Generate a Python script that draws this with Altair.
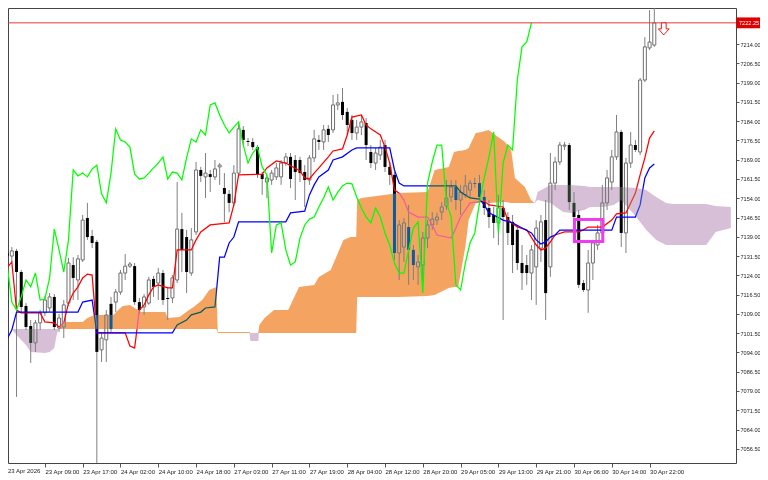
import altair as alt
import pandas as pd

# ---------------- data (H1 bars, index 0 = 23 Apr 01:00) ----------------
opens = [7132.7,7131.5,7133.5,7125.3,7112.1,7104.3,7097.7,7105.5,7109.4,7111.3,
         7115.6,7103.5,7103.9,7113.2,7128.0,7122.2,7130.0,7146.3,7139.3,7137.0,
         7095.0,7098.9,7112.9,7113.6,7117.5,7124.9,7127.6,7127.6,7113.6,7111.7,
         7113.2,7122.6,7121.0,7124.9,7115.2,7115.2,7122.2,7142.0,7138.9,7124.9,
         7140.9,7165.0,7162.3,7163.4,7162.3,7166.2,7158.0,7155.7,7152.2,7163.8,
         7180.6,7176.3,7175.9,7173.9,7163.4,7160.3,7161.1,7162.3,7162.3,7167.7,
         7170.1,7168.9,7168.9,7164.2,7161.1,7169.7,7176.7,7175.9,7181.0,7180.6,
         7190.3,7191.5,7187.6,7184.5,7179.4,7181.7,7183.3,7172.0,7167.7,7170.8,
         7174.7,7166.2,7163.1,7132.7,7135.0,7142.8,7133.9,7127.3,7128.0,7138.5,
         7143.6,7145.5,7148.6,7151.0,7154.5,7158.4,7153.3,7155.3,7157.2,7159.9,
         7159.9,7154.5,7150.2,7147.5,7144.4,7150.2,7146.7,7144.8,7141.7,7128.8,
         7128.0,7124.9,7127.3,7134.6,7145.5,7127.3,7159.9,7168.1,7174.3,7174.7,
         7152.2,7147.5,7121.0,7118.3,7128.8,7135.8,7140.5,7152.2,7160.3,7170.1,
         7179.8,7140.5,7167.7,7174.7,7172.0,7200.0,7212.5,7213.6]
highs = [7134.3,7135.0,7134.3,7126.1,7113.2,7106.6,7106.6,7110.5,7116.0,7117.1,
         7116.7,7109.0,7114.4,7130.8,7131.1,7131.9,7147.5,7152.2,7141.7,7137.8,
         7101.6,7110.5,7115.6,7118.7,7126.1,7132.3,7129.2,7128.8,7115.2,7116.7,
         7123.4,7123.8,7126.9,7126.1,7119.5,7124.1,7160.3,7148.3,7141.7,7142.4,
         7168.1,7166.2,7171.6,7165.0,7168.9,7167.7,7163.8,7157.2,7166.9,7183.3,
         7182.1,7177.4,7177.4,7174.7,7164.2,7163.1,7165.0,7167.7,7168.9,7171.6,
         7171.6,7170.8,7170.1,7166.9,7170.8,7180.6,7178.6,7182.5,7182.5,7194.2,
         7194.6,7196.9,7189.1,7186.4,7184.5,7186.4,7185.2,7174.7,7173.6,7176.7,
         7176.7,7168.1,7164.2,7145.5,7146.3,7151.4,7135.8,7131.9,7140.9,7145.5,
         7148.6,7148.3,7152.5,7161.1,7161.1,7161.1,7159.2,7163.1,7161.1,7162.0,
         7163.1,7157.2,7153.3,7150.6,7155.3,7153.3,7148.6,7147.5,7143.6,7135.8,
         7131.9,7135.8,7145.5,7147.5,7153.3,7171.6,7170.1,7175.9,7175.9,7175.5,
         7156.4,7149.4,7122.2,7133.9,7137.8,7143.6,7159.2,7165.0,7172.8,7186.4,
         7180.6,7169.7,7179.8,7176.7,7200.8,7216.7,7227.2,7228.0]
lows = [7129.2,7129.2,7076.7,7109.7,7102.7,7089.9,7094.2,7102.7,7108.2,7109.7,
        7102.7,7102.0,7099.6,7112.1,7114.4,7114.4,7129.2,7137.8,7134.6,7051.0,
        7090.3,7090.3,7102.0,7109.7,7116.4,7122.2,7126.9,7112.5,7109.0,7108.6,
        7112.5,7115.6,7114.4,7112.5,7106.6,7113.2,7121.0,7125.3,7117.1,7123.8,
        7139.7,7160.3,7154.1,7156.4,7161.1,7159.2,7144.8,7148.6,7151.0,7162.7,
        7174.7,7174.3,7172.8,7161.9,7155.3,7154.1,7159.2,7161.1,7159.2,7166.6,
        7158.0,7153.3,7160.3,7150.6,7159.2,7168.1,7172.8,7172.8,7175.9,7179.4,
        7188.3,7184.5,7178.6,7176.7,7176.7,7178.6,7168.9,7165.8,7165.0,7168.9,
        7164.2,7159.2,7130.0,7122.2,7129.2,7120.3,7122.2,7120.3,7121.4,7134.6,
        7141.7,7143.6,7145.5,7149.4,7152.5,7149.4,7147.5,7154.1,7154.1,7158.0,
        7151.4,7147.5,7142.4,7138.5,7135.8,7106.6,7135.8,7124.9,7126.1,7118.3,
        7120.3,7114.4,7112.5,7129.2,7106.6,7123.4,7157.2,7166.9,7172.8,7149.4,
        7144.8,7119.1,7117.5,7109.4,7122.2,7133.9,7137.8,7149.4,7157.2,7168.9,
        7135.0,7132.7,7165.8,7172.0,7170.8,7199.2,7211.7,7212.9]
closes = [7131.5,7133.5,7125.3,7111.7,7103.9,7097.7,7105.5,7109.4,7114.4,7115.6,
          7103.9,7107.4,7112.5,7128.8,7123.0,7130.4,7145.5,7138.9,7136.6,7094.2,
          7099.6,7108.6,7103.1,7117.5,7124.9,7127.6,7128.4,7113.6,7110.5,7115.6,
          7122.2,7119.5,7124.9,7114.4,7114.8,7123.0,7142.0,7133.9,7125.3,7137.8,
          7165.0,7162.7,7163.8,7162.3,7165.4,7166.9,7155.7,7152.2,7163.8,7181.0,
          7176.7,7175.9,7173.9,7163.4,7161.5,7161.9,7163.8,7165.8,7167.7,7170.1,
          7161.5,7164.2,7163.8,7161.1,7169.7,7177.1,7175.9,7180.6,7178.6,7190.3,
          7191.1,7186.4,7182.5,7179.4,7181.7,7183.7,7174.7,7167.7,7171.6,7173.9,
          7166.2,7163.1,7132.7,7143.6,7144.4,7133.9,7128.0,7129.2,7138.5,7143.6,
          7145.9,7146.7,7150.6,7154.1,7158.4,7153.3,7156.4,7158.8,7159.9,7159.6,
          7154.5,7150.2,7146.7,7144.4,7150.2,7146.7,7140.5,7135.8,7128.8,7124.9,
          7124.9,7133.9,7142.4,7144.8,7117.1,7159.9,7168.1,7174.7,7174.7,7152.5,
          7146.7,7120.3,7118.3,7128.8,7136.6,7140.5,7152.2,7161.9,7170.1,7179.8,
          7140.5,7167.7,7174.7,7172.8,7200.0,7212.9,7214.8,7222.25]

# Tenkan-sen (red) and Kijun-sen (blue), read at their turning points
tenkan_bar = [0,1,2,3,7,8,10,11,12,13,14,15,16,17,18,19,25,26,27,28,29,30,31,32,34,35,36,39,40,41,
              43,47,48,49,54,55,57,59,62,63,64,65,66,68,69,71,72,73,75,76,77,79,80,81,82,83,84,85,87,89,
              90,91,94,95,96,98,101,102,105,106,108,110,112,113,114,115,116,118,121,122,123,126,128,129,
              131,133,134,135,136,137]
tenkan_val = [7126.9,7129.2,7110.5,7109.4,7109.4,7105.9,7105.5,7103.9,7105.5,7113.2,7117.1,7119.5,7123.0,
              7124.5,7124.1,7101.6,7101.6,7096.5,7095.7,7110.5,7112.5,7116.4,7119.5,7120.3,7119.1,7119.1,
              7133.9,7133.9,7137.8,7140.9,7143.6,7144.4,7151.4,7163.1,7163.4,7165.8,7168.5,7167.7,7164.6,
              7161.9,7161.5,7163.8,7165.8,7170.1,7172.4,7173.2,7178.6,7185.6,7186.4,7182.5,7181.0,7178.6,
              7173.9,7167.7,7157.2,7156.0,7153.3,7148.6,7146.7,7146.7,7143.6,7139.7,7138.5,7142.4,7146.7,
              7152.2,7152.9,7151.4,7150.6,7145.5,7142.8,7141.7,7135.8,7133.9,7134.6,7137.0,7139.7,7140.9,
              7140.9,7141.7,7142.8,7142.8,7145.5,7147.9,7148.3,7156.0,7163.1,7169.7,7177.4,7180.2]
kijun_bar = [0,1,2,15,16,18,19,35,36,38,39,41,42,44,45,46,47,48,49,59,60,63,64,65,66,68,69,71,73,74,
             81,82,83,84,95,96,98,100,101,102,103,105,107,109,111,112,113,114,115,116,117,128,129,133,
             134,135,136,137]
kijun_val = [7099.2,7102.7,7109.7,7109.7,7113.6,7114.4,7101.6,7101.6,7104.7,7106.6,7108.6,7109.7,7111.3,
             7111.7,7131.1,7131.1,7136.6,7138.9,7144.8,7144.8,7148.3,7149.0,7155.3,7159.2,7162.3,7165.0,
             7168.9,7170.1,7172.8,7173.6,7173.6,7165.0,7159.9,7158.8,7158.8,7156.4,7154.1,7153.7,7151.4,
             7148.3,7147.5,7145.5,7144.4,7142.4,7140.5,7137.8,7136.2,7137.0,7138.9,7139.7,7141.6,7141.6,
             7146.7,7146.7,7151.4,7161.9,7165.8,7167.3]

# Senkou span A / B (cloud edges), read at their turning points
cloud_bar = [1.3,2.0,4.0,5.0,8.0,9.0,10.0,10.5,10.9,11.3,12.0,16.0,17.0,18.5,22.5,23.5,24.5,26.0,27.0,28.5,
             33.5,34.0,36.5,38.5,39.5,41.3,42.8,44.3,44.6,51.3,51.5,53.2,53.4,54.5,56.5,59.5,61.8,65.0,66.0,
             68.5,71.2,72.7,73.9,74.1,75.0,83.0,89.0,90.5,93.5,94.6,95.5,97.0,97.7,99.2,100.4,101.9,105.4,
             106.7,107.5,109.6,110.9,111.7,112.3,115.0,117.7,119.3,122.2,123.4,126.3,128.4,130.0,133.2,
             135.3,137.4,139.5,141.0,148.0,150.0,153.2]
span_a = [7102.3,7100.79,7096.90,7094.18,7093.79,7094.18,7095.73,7100.79,7103.13,7104.68,7105.85,7105.85,
          7107.41,7108.57,7108.57,7110.52,7112.08,7112.46,7111.30,7109.74,7109.74,7107.41,7107.80,7110.52,
          7111.69,7114.41,7118.30,7119.47,7101.97,7101.97,7098.46,7098.46,7104.68,7107.41,7110.52,7110.52,
          7119.47,7120.25,7123.36,7126.08,7137.76,7138.92,7138.92,7153.32,7154.10,7156.04,7156.43,7164.99,
          7166.16,7172.00,7172.39,7172.77,7173.55,7179.39,7179.78,7180.56,7175.89,7172.77,7161.88,7158.38,
          7153.32,7152.15,7153.32,7152.15,7148.65,7148.26,7149.43,7150.60,7150.60,7151.37,7153.32,7146.71,
          7141.65,7137.76,7135.81,7135.81,7135.81,7140.87,7142.43]
span_b = [7103.13,7103.13,7103.13,7103.13,7103.13,7103.13,7103.13,7103.13,7103.13,7103.13,7103.13,7103.13,
          7103.13,7103.13,7103.13,7103.13,7103.13,7103.13,7103.13,7103.13,7103.13,7103.13,7103.13,7103.13,
          7103.13,7103.13,7103.13,7103.13,7101.57,7101.57,7101.57,7101.57,7101.57,7101.57,7101.57,7101.57,
          7101.57,7101.57,7101.57,7101.57,7101.57,7101.57,7101.57,7115.58,7115.58,7115.58,7115.97,7116.36,
          7119.08,7119.47,7119.47,7135.03,7145.54,7152.15,7153.32,7152.15,7152.54,7152.15,7152.15,7152.15,
          7152.15,7152.15,7156.43,7159.16,7159.16,7159.16,7158.77,7158.38,7158.38,7158.38,7158.38,7157.99,
          7157.21,7154.49,7152.15,7151.76,7151.76,7150.99,7150.60]

time_labels = ["23 Apr 2026", "23 Apr 09:00", "23 Apr 17:00", "24 Apr 02:00", "24 Apr 10:00",
               "24 Apr 18:00", "27 Apr 03:00", "27 Apr 11:00", "27 Apr 19:00", "28 Apr 04:00",
               "28 Apr 12:00", "28 Apr 20:00", "29 Apr 05:00", "29 Apr 13:00", "29 Apr 21:00",
               "30 Apr 06:00", "30 Apr 14:00", "30 Apr 22:00"]
price_ticks = [7214.0, 7206.5, 7199.0, 7191.5, 7184.0, 7176.5, 7169.0, 7161.5, 7154.0, 7146.5,
               7139.0, 7131.5, 7124.0, 7116.5, 7109.0, 7101.5, 7094.0, 7086.5, 7079.0, 7071.5,
               7064.0, 7056.5]
bid_price = 7222.25
box_bars = [120.1, 126.1]
box_prices = [7137.2, 7145.7]
arrow_bar = 139.0
arrow_price = 7219.9
CHIKOU_SHIFT = 26

# ---------------- tables ----------------
n = len(opens)
candles = pd.DataFrame({"i": list(range(n)), "o": opens, "h": highs, "l": lows, "c": closes})
candles["top"] = candles[["o", "c"]].max(axis=1)
candles["bot"] = candles[["o", "c"]].min(axis=1)
bull = candles[candles["c"] >= candles["o"]]
bear = candles[candles["c"] < candles["o"]]

tenkan = pd.DataFrame({"i": tenkan_bar, "p": tenkan_val})
kijun = pd.DataFrame({"i": kijun_bar, "p": kijun_val})
cloud = pd.DataFrame({"i": cloud_bar, "a": span_a, "b": span_b})
cloud["top"] = cloud[["a", "b"]].max(axis=1)
chikou = pd.DataFrame({"i": list(range(n - CHIKOU_SHIFT)), "p": closes[CHIKOU_SHIFT:]})
bid = pd.DataFrame({"p": [bid_price], "lab": ["%.2f" % bid_price]})
box = pd.DataFrame({"x1": [box_bars[0]], "x2": [box_bars[1]], "y1": [box_prices[0]], "y2": [box_prices[1]]})
arrow = pd.DataFrame({"i": [arrow_bar], "p": [arrow_price]})
first_label = pd.DataFrame({"lab": [time_labels[0]]})

# ---------------- scales / axes ----------------
W, H = 728, 455
X_SCALE = alt.Scale(domain=[1.2526, 153.236], nice=False, zero=False)
Y_SCALE = alt.Scale(domain=[7050.98, 7228.03], nice=False, zero=False)
label_expr = "[" + ",".join("'%s'" % s for s in time_labels) + "][round(datum.value / 8)]"
X_AXIS = alt.Axis(values=[8 * k for k in range(1, len(time_labels))], labelExpr=label_expr, title=None,
                  grid=False, domain=False, tickSize=4, tickColor="#555555", labelAlign="left",
                  labelBaseline="top", labelPadding=1, labelFontSize=6, labelFont="Liberation Sans",
                  labelColor="#222222", labelOverlap=False, labelFlush=False)
Y_AXIS = alt.Axis(orient="right", values=price_ticks, format=".2f", title=None, grid=False, domain=False,
                  tickSize=3, tickColor="#555555", labelPadding=1, labelFontSize=5.6,
                  labelFont="Liberation Sans", labelColor="#222222", labelOverlap=False, labelFlush=False)


def ex(f):
    return alt.X(f, type="quantitative", scale=X_SCALE, axis=X_AXIS)


def ey(f):
    return alt.Y(f, type="quantitative", scale=Y_SCALE, axis=Y_AXIS)


wicks = alt.Chart(candles).mark_rule(color="#808080", strokeWidth=1, clip=True).encode(
    x=ex("i"), y=ey("h"), y2="l")
bear_bodies = alt.Chart(bear).mark_bar(size=3, color="#000000", clip=True).encode(
    x=ex("i"), y=ey("top"), y2="bot")
bull_bodies = alt.Chart(bull).mark_bar(size=3, fill="#ffffff", stroke="#6e6e6e", strokeWidth=1,
                                       clip=True).encode(x=ex("i"), y=ey("top"), y2="bot")
tenkan_line = alt.Chart(tenkan).mark_line(color="#ff0000", strokeWidth=1.25, clip=True).encode(
    x=ex("i"), y=ey("p"))
kijun_line = alt.Chart(kijun).mark_line(color="#0000ff", strokeWidth=1.25, clip=True).encode(
    x=ex("i"), y=ey("p"))
# cloud drawn with an exclusion blend: white -> sandy brown / thistle, black and
# saturated lines underneath come out inverted, as in the terminal's drawing
cloud_up = alt.Chart(cloud).mark_area(color="#0b5b9f", blend="exclusion", opacity=1).encode(
    x=ex("i"), y=ey("top"), y2="b")
cloud_down = alt.Chart(cloud).mark_area(color="#274027", blend="exclusion", opacity=1).encode(
    x=ex("i"), y=ey("top"), y2="a")
chikou_line = alt.Chart(chikou).mark_line(color="#00ff00", strokeWidth=1.25, clip=True).encode(
    x=ex("i"), y=ey("p"))
bid_line = alt.Chart(bid).mark_rule(color="#e03c3c", strokeWidth=1).encode(y=ey("p"))
box_mark = alt.Chart(box).mark_rect(fillOpacity=0, stroke="#f03cf0", strokeWidth=3).encode(
    x=ex("x1"), x2="x2", y=ey("y1"), y2="y2")
arrow_mark = alt.Chart(arrow).mark_point(
    shape="M-0.4,-1L0.4,-1L0.4,0L0.9,0L0,1L-0.9,0L-0.4,0Z", size=144, filled=True,
    fill="#ffffff", stroke="#e02020", strokeWidth=1, opacity=1).encode(x=ex("i"), y=ey("p"))
price_box = alt.Chart(bid).mark_point(
    shape="M-1,-0.35L1,-0.35L1,0.35L-1,0.35Z", size=961, filled=True, color="#e00000",
    opacity=1, strokeWidth=0).encode(x=alt.value(744), y=ey("p"))
price_text = alt.Chart(bid).mark_text(align="left", baseline="middle", fontSize=5.6,
                                      font="Liberation Sans", color="#ffffff").encode(
    x=alt.value(731), y=ey("p"), text="lab:N")
first_lab = alt.Chart(first_label).mark_text(align="left", baseline="top", fontSize=6,
                                             font="Liberation Sans", color="#222222").encode(
    x=alt.value(0), y=alt.value(H + 5), text="lab:N")

chart = alt.layer(
    wicks, bear_bodies, bull_bodies, tenkan_line, kijun_line, cloud_up, cloud_down,
    chikou_line, bid_line, box_mark, arrow_mark, price_box, price_text, first_lab
).properties(
    width=W, height=H,
    padding={"left": 0, "top": 0, "right": 24, "bottom": 17},
    autosize=alt.AutoSizeParams(type="none"),
    background="#ffffff",
).configure_view(stroke="#444444", strokeWidth=1)

chart.save("out.html", embed_options={"renderer": "svg", "actions": False})
